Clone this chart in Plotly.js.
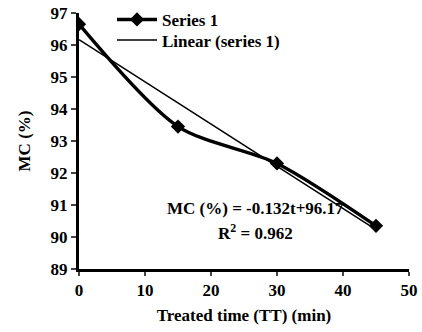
<!DOCTYPE html>
<html><head><meta charset="utf-8">
<script src="https://cdn.plot.ly/plotly-3.0.1.min.js"></script>
<style>html,body{margin:0;padding:0;background:#fff}</style>
</head><body>
<div id="chart" style="width:422px;height:332px"></div>
<script>
const timeMin = [0, 15, 30, 45];
const mcPercent = [96.65, 93.45, 92.3, 90.35];
const fitSlope = -0.132;
const fitIntercept = 96.17;
const fitX = [0, 45];
const fitY = fitX.map(t => fitIntercept + fitSlope * t);
const xTicks = [0, 10, 20, 30, 40, 50];
const yTicks = [89, 90, 91, 92, 93, 94, 95, 96, 97];

const FAM = 'Liberation Serif';
const f = (size, weight) => ({family: FAM, size: size, color: '#000', weight: weight || 'bold'});

const traces = [
  {x: timeMin, y: mcPercent, name: 'Series 1', mode: 'lines+markers', legend: 'legend',
   line: {color: '#000', width: 3.4, shape: 'spline', smoothing: 0.8},
   marker: {symbol: 'diamond', size: 11, color: '#000'}},
  {x: fitX, y: fitY, name: 'Linear (series 1)', mode: 'lines', legend: 'legend2',
   line: {color: '#000', width: 1.6}}
];

const legendBase = {x: 0.1, xanchor: 'left', yanchor: 'middle', bgcolor: 'rgba(0,0,0,0)',
                    font: f(17), itemwidth: 40};

const layout = {
  width: 422, height: 332,
  margin: {l: 79, r: 13, t: 13, b: 63, autoexpand: false},
  paper_bgcolor: '#fff', plot_bgcolor: '#fff',
  font: f(16),
  showlegend: true,
  legend: Object.assign({y: 0.973}, legendBase),
  legend2: Object.assign({y: 0.893}, legendBase),
  xaxis: {range: [0, 50], tickvals: xTicks, ticks: 'outside', ticklen: 4, tickwidth: 2,
          showline: true, linewidth: 3, linecolor: '#000', showgrid: false, zeroline: false,
          tickfont: f(17),
          title: {text: 'Treated time (TT) (min)', font: f(17), standoff: 10}},
  yaxis: {range: [89, 97], tickvals: yTicks, ticks: 'outside', ticklen: 5, tickwidth: 2,
          showline: true, linewidth: 3, linecolor: '#000', showgrid: false, zeroline: false,
          tickfont: f(17),
          title: {text: 'MC (%)', font: f(17), standoff: 16}},
  annotations: [
    {xref: 'paper', yref: 'paper', x: 0.536, y: 0.191, showarrow: false,
     text: 'MC (%) = -0.132t+96.17', font: f(17)},
    {xref: 'paper', yref: 'paper', x: 0.536, y: 0.094, showarrow: false,
     text: 'R<sup>2</sup> = 0.962', font: f(17)}
  ]
};

Plotly.newPlot('chart', traces, layout, {displayModeBar: false, staticPlot: true});
</script>
</body></html>
